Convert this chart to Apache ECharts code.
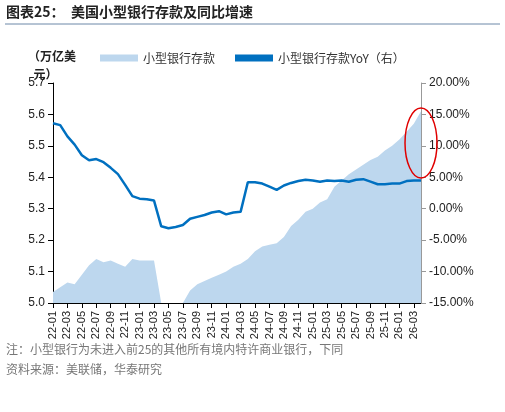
<!DOCTYPE html>
<html><head><meta charset="utf-8">
<script src="https://cdn.jsdelivr.net/npm/echarts@6/dist/echarts.min.js"></script>
<style>html,body{margin:0;padding:0;background:#fff}#c{width:505px;height:412px}</style>
</head><body><div id="c"></div>
<script>
const categories = [];
for (let y = 22; y <= 26; y++) for (let m = 1; m <= 12; m++) { if (y === 26 && m > 4) break; categories.push(y + '-' + String(m).padStart(2, '0')); }
const deposits = [5.035,5.05,5.065,5.06,5.09,5.12,5.14,5.13,5.135,5.125,5.115,5.14,5.135,5.135,5.135,5.0,5.0,5.0,5.0,5.04,5.06,5.07,5.08,5.09,5.10,5.115,5.125,5.14,5.165,5.18,5.185,5.19,5.21,5.245,5.265,5.29,5.30,5.32,5.33,5.37,5.39,5.41,5.425,5.44,5.455,5.465,5.485,5.50,5.52,5.545,5.57,5.61];
const yoy = [13.6,13.3,11.5,10.2,8.5,7.7,7.9,7.4,6.5,5.5,3.8,2.0,1.6,1.5,1.3,-2.8,-3.1,-2.9,-2.6,-1.6,-1.3,-1.0,-0.6,-0.4,-0.9,-0.6,-0.5,4.2,4.2,4.0,3.5,3.0,3.7,4.1,4.4,4.6,4.5,4.3,4.5,4.4,4.5,4.3,4.6,4.7,4.3,3.9,3.9,4.0,4.0,4.4,4.5,4.5];
const seriesNames = ['小型银行存款', '小型银行存款YoY（右）'];
const font = '"Noto Sans CJK SC", sans-serif';
const chart = echarts.init(document.getElementById('c'));
chart.setOption({
  animation: false,
  textStyle: { fontFamily: font },
  graphic: [
    { type: 'text', left: 6, top: 5, style: { text: '图表25：  美国小型银行存款及同比增速', font: 'bold 14px ' + font, fill: '#222' } },
    { type: 'line', shape: { x1: 5, y1: 24, x2: 500, y2: 24 }, style: { stroke: '#6d88a8', lineWidth: 1 } },
    { type: 'text', left: 28, top: 47, style: { text: '（万亿美\n  元）', font: 'bold 12px ' + font, fill: '#222', lineHeight: 18 } },
    { type: 'ellipse', shape: { cx: 421, cy: 143, rx: 16, ry: 35 }, style: { fill: 'none', stroke: '#e00000', lineWidth: 1.5 }, z: 100 },
    { type: 'text', left: 6, top: 343, style: { text: '注：小型银行为未进入前25的其他所有境内特许商业银行，下同', font: '12px ' + font, fill: '#777' } },
    { type: 'text', left: 6, top: 363, style: { text: '资料来源：美联储，华泰研究', font: '12px ' + font, fill: '#777' } }
  ],
  legend: {
    top: 47, left: 95, itemWidth: 38, itemHeight: 7, itemGap: 20,
    textStyle: { fontSize: 12, color: '#333', fontFamily: font },
    data: [{ name: seriesNames[0], icon: 'rect', itemStyle: { color: '#bdd7ee' } }, { name: seriesNames[1], icon: 'rect', itemStyle: { color: '#0070c0' } }]
  },
  grid: { left: 53, right: 84, top: 83, bottom: 109 },
  xAxis: {
    type: 'category', data: categories, boundaryGap: false,
    axisLine: { onZero: false, lineStyle: { color: '#000' } },
    axisTick: { interval: 1, lineStyle: { color: '#000' } },
    axisLabel: { interval: 1, rotate: 90, color: '#222', fontSize: 11, fontFamily: 'Liberation Sans, Arial' }
  },
  yAxis: [
    { type: 'value', min: 5.0, max: 5.7, interval: 0.1, splitLine: { show: false },
      axisLine: { show: true, lineStyle: { color: '#000' } }, axisTick: { show: true, lineStyle: { color: '#000' } },
      axisLabel: { color: '#222', fontSize: 12, fontFamily: 'Liberation Sans, Arial', formatter: v => v.toFixed(1) } },
    { type: 'value', min: -15, max: 20, interval: 5, splitLine: { show: false },
      axisLine: { show: true, lineStyle: { color: '#999' } }, axisTick: { show: true, lineStyle: { color: '#999' } },
      axisLabel: { color: '#222', fontSize: 12, fontFamily: 'Liberation Sans, Arial', formatter: v => v.toFixed(2) + '%' } }
  ],
  series: [
    { name: seriesNames[0], type: 'line', yAxisIndex: 0, data: deposits, symbol: 'none',
      lineStyle: { width: 0 }, itemStyle: { color: '#bdd7ee' }, areaStyle: { color: '#bdd7ee', opacity: 1 } },
    { name: seriesNames[1], type: 'line', yAxisIndex: 1, data: yoy, symbol: 'none',
      lineStyle: { width: 2.5, color: '#0070c0' }, itemStyle: { color: '#0070c0' }, z: 3 }
  ]
});
</script></body></html>
